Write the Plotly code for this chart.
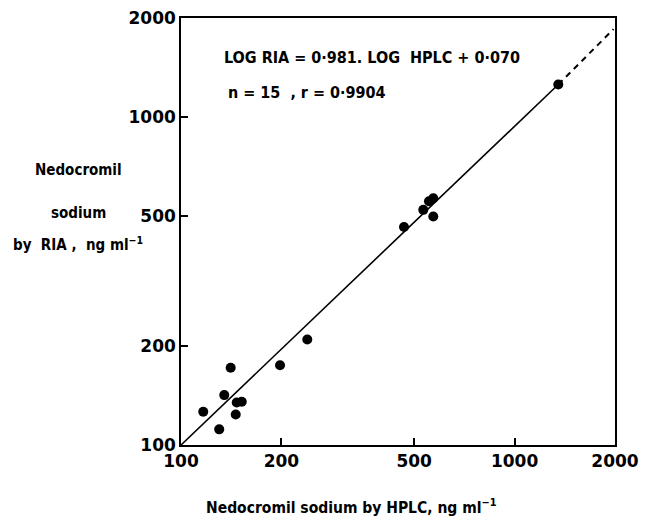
import math
import plotly.graph_objects as go

# Data (ng/ml)
hplc = [116.6, 130.2, 134.8, 140.9, 145.9, 146.9, 152.1, 198.1, 239.1,
        466.1, 532.5, 553.8, 570.5, 570.5, 1352]
ria = [126.3, 111.6, 141.9, 172.0, 123.9, 134.7, 135.4, 174.9, 209.6,
       461.5, 520.6, 553.0, 564.8, 497.1, 1254]

# Regression line as drawn: solid within data range, dashed extrapolation
fit_x_solid = [100, 1352]
fit_y_solid = [100, 1254]
fit_x_dash = [1352, 1980]
fit_y_dash = [1254, 1850]

tick_vals = [100, 200, 500, 1000, 2000]
tick_text = ["100", "200", "500", "1000", "2000"]

NB = "\u00a0"
equation_text = "LOG RIA = 0·981. LOG  HPLC + 0·070"
stats_text = "n = 15  , r = 0·9904"
x_title = "Nedocromil sodium by HPLC, ng ml<sup>−1</sup>"
y_title_lines = ["Nedocromil", "sodium",
                 "by" + NB * 2 + "RIA" + NB + "," + NB * 2 + "ng" + NB + "ml<sup>−1</sup>"]

fig = go.Figure()
fig.add_trace(go.Scatter(x=fit_x_solid, y=fit_y_solid, mode="lines",
                         line=dict(color="black", width=1.6), showlegend=False))
fig.add_trace(go.Scatter(x=fit_x_dash, y=fit_y_dash, mode="lines",
                         line=dict(color="black", width=2, dash="6px,5px"),
                         showlegend=False))
fig.add_trace(go.Scatter(x=hplc, y=ria, mode="markers",
                         marker=dict(color="black", size=10), showlegend=False))

tickfont = dict(family="DejaVu Sans", size=17, color="black", weight="bold")
axis_common = dict(type="log", tickvals=tick_vals, ticktext=tick_text,
                   ticks="inside", ticklen=7, tickwidth=1.5, tickcolor="black",
                   showline=True, linecolor="black", linewidth=1.5, mirror=True,
                   showgrid=False, zeroline=False, tickfont=tickfont,
                   ticklabeloverflow="allow", automargin=False)

fig.update_xaxes(range=[2, math.log10(2000)], **axis_common)
fig.update_yaxes(range=[2, math.log10(2000)], **axis_common)

cond = "DejaVu Sans Condensed, DejaVu Sans"
labfont = dict(family=cond, size=16, color="black")
annotations = [
    dict(text="<b>" + equation_text + "</b>", x=0.094, y=0.907, xref="paper", yref="paper",
         xanchor="left", yanchor="middle", showarrow=False, font=labfont),
    dict(text="<b>" + stats_text + "</b>", x=0.104, y=0.826, xref="paper", yref="paper",
         xanchor="left", yanchor="middle", showarrow=False, font=labfont),
    dict(text="<b>" + x_title + "</b>", x=0.394, y=-0.144, xref="paper", yref="paper",
         xanchor="center", yanchor="middle", showarrow=False,
         font=dict(family=cond, size=15.5, color="black")),
]
for line_text, ypos in zip(y_title_lines, [0.645, 0.543, 0.471]):
    annotations.append(dict(text="<b>" + line_text + "</b>", x=-0.237, y=ypos,
                            xref="paper", yref="paper", xanchor="center", yanchor="middle",
                            showarrow=False,
                            font=dict(family=cond, size=15, color="black")))

fig.update_layout(width=650, height=524, margin=dict(l=173, r=43, t=10, b=87),
                  paper_bgcolor="white", plot_bgcolor="white",
                  annotations=annotations, showlegend=False)

fig.write_html("out.html")
